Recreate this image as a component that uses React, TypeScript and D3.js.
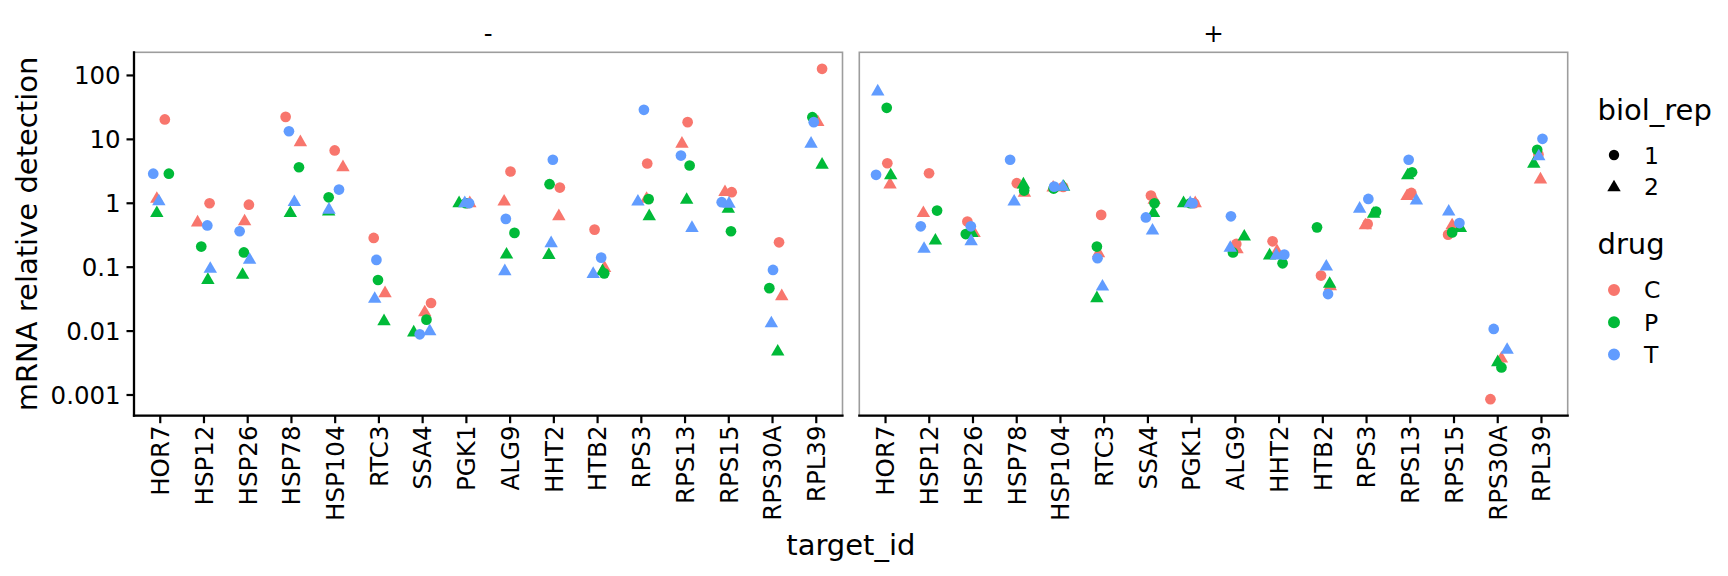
import React from "react";
import * as d3 from "d3";

const categories = ["HOR7", "HSP12", "HSP26", "HSP78", "HSP104", "RTC3", "SSA4", "PGK1", "ALG9", "HHT2", "HTB2", "RPS3", "RPS13", "RPS15", "RPS30A", "RPL39"];
const panelLabels = ["-", "+"];
const drugs = ["C", "P", "T"];
const drugColors = ["#F8766D", "#00BA38", "#619CFF"];
const reps = ["1", "2"];
const yTicks = [0.001, 0.01, 0.1, 1, 10, 100];
const yTickLabels = ["0.001", "0.01", "0.1", "1", "10", "100"];

// panel "-"
const minusC1 = [20.5, 1.0, 0.95, 22.5, 6.7, 0.287, 0.0275, 1.0, 3.14, 1.76, 0.387, 4.19, 18.6, 1.49, 0.245, 127];
const minusC1Jit = [0.105, 0.128, 0.027, -0.133, -0.011, -0.119, 0.192, 0.032, 0.009, 0.137, -0.069, 0.135, 0.059, 0.066, 0.149, 0.133];
const minusC2 = [1.17, 0.5, 0.52, 9.0, 3.66, 0.039, 0.0196, 1.0, 1.06, 0.625, 0.097, 1.17, 8.5, 1.49, 0.035, 18.6];
const minusC2Jit = [-0.078, -0.146, -0.071, 0.204, 0.178, 0.14, 0.048, 0.078, -0.137, 0.114, 0.16, 0.121, -0.071, -0.087, 0.211, 0.034];
const minusP1 = [2.9, 0.21, 0.17, 3.66, 1.24, 0.063, 0.0151, 1.0, 0.344, 1.99, 0.08, 1.16, 3.9, 0.365, 0.047, 22.2];
const minusP1Jit = [0.197, -0.062, -0.087, 0.172, -0.149, -0.021, 0.087, -0.014, 0.1, -0.098, 0.151, 0.167, 0.105, 0.05, -0.073, -0.089];
const minusP2 = [0.7, 0.063, 0.0755, 0.7, 0.74, 0.0142, 0.0095, 1.0, 0.157, 0.155, 0.086, 0.625, 1.13, 0.82, 0.00475, 3.99];
const minusP2Jit = [-0.078, 0.089, -0.117, -0.025, -0.149, 0.117, -0.204, -0.167, -0.082, -0.114, 0.114, 0.181, 0.037, -0.011, 0.119, 0.133];
const minusT1 = [2.9, 0.45, 0.365, 13.4, 1.64, 0.13, 0.0089, 1.0, 0.57, 4.8, 0.141, 29, 5.58, 1.04, 0.0906, 18.6];
const minusT1Jit = [-0.16, 0.076, -0.185, -0.057, 0.087, -0.057, -0.066, 0.062, -0.098, -0.023, 0.082, 0.059, -0.094, -0.162, 0.011, -0.057];
const minusT2 = [1.07, 0.094, 0.13, 1.04, 0.79, 0.0318, 0.0099, 1.0, 0.086, 0.236, 0.078, 1.06, 0.41, 0.98, 0.0132, 8.5];
const minusT2Jit = [-0.032, 0.144, 0.043, 0.066, -0.142, -0.096, 0.162, -0.037, -0.121, -0.062, -0.1, -0.078, 0.158, 0.005, -0.027, -0.119];

// panel "+"
const plusC1 = [4.23, 2.95, 0.517, 2.06, 1.8, 0.658, 1.32, 1.0, 0.231, 0.254, 0.074, 0.475, 1.45, 0.323, 0.00086, 5.8];
const plusC1Jit = [0.041, -0.005, -0.128, 0.002, 0.062, -0.069, 0.069, 0.06, 0.021, -0.149, -0.041, 0.025, 0.025, -0.135, -0.167, -0.069];
const plusC2 = [1.96, 0.7, 0.34, 1.45, 1.75, 0.165, 1.13, 1.0, 0.19, 0.177, 0.05, 0.45, 1.29, 0.45, 0.0037, 2.35];
const plusC2Jit = [0.103, -0.135, 0.025, 0.176, -0.167, -0.13, 0.144, 0.082, 0.037, -0.048, 0.172, -0.027, -0.073, -0.043, 0.085, -0.023];
const plusP1 = [31.2, 0.77, 0.33, 1.58, 1.7, 0.21, 1.0, 1.0, 0.17, 0.115, 0.42, 0.74, 3.06, 0.35, 0.0027, 6.86];
const plusP1Jit = [0.027, 0.178, -0.165, 0.169, -0.156, -0.167, 0.151, -0.032, -0.055, 0.08, -0.133, 0.217, 0.041, -0.043, 0.085, -0.098];
const plusP2 = [2.72, 0.26, 0.34, 1.96, 1.8, 0.0325, 0.7, 1.0, 0.3, 0.152, 0.0546, 0.68, 2.72, 0.41, 0.00324, 4.14];
const plusP2Jit = [0.119, 0.14, -0.027, 0.153, 0.073, -0.167, 0.128, -0.185, 0.204, -0.217, 0.156, 0.162, -0.059, 0.146, 0, -0.176];
const plusT1 = [2.79, 0.436, 0.436, 4.8, 1.82, 0.138, 0.6, 1.0, 0.625, 0.157, 0.038, 1.17, 4.8, 0.49, 0.0108, 10.2];
const plusT1Jit = [-0.217, -0.195, -0.05, -0.151, -0.144, -0.153, -0.046, 0.021, -0.101, 0.119, 0.119, 0.041, -0.037, 0.124, -0.092, 0.023];
const plusT2 = [56, 0.193, 0.254, 1.06, 1.8, 0.0496, 0.373, 1.0, 0.2, 0.152, 0.102, 0.82, 1.1, 0.74, 0.00506, 5.4];
const plusT2Jit = [-0.178, -0.119, -0.043, -0.059, 0.055, -0.039, 0.105, -0.032, -0.117, -0.064, 0.08, -0.158, 0.14, -0.121, 0.215, -0.062];

// grouped: [panel][drug][rep]
const series = [
  [[[minusC1, minusC1Jit], [minusC2, minusC2Jit]], [[minusP1, minusP1Jit], [minusP2, minusP2Jit]], [[minusT1, minusT1Jit], [minusT2, minusT2Jit]]],
  [[[plusC1, plusC1Jit], [plusC2, plusC2Jit]], [[plusP1, plusP1Jit], [plusP2, plusP2Jit]], [[plusT1, plusT1Jit], [plusT2, plusT2Jit]]],
];

const FONT = "DejaVu Sans, sans-serif";
const W = 1728;
const H = 576;
const panelTop = 52.3;
const panelBottom = 415.7;
const panelX = [[134, 842.5], [859.3, 1567.7]];

const circlePath = d3.symbol().type(d3.symbolCircle).size(90)() as string;
const trianglePath = d3.symbol().type(d3.symbolTriangle).size(78)() as string;
const legendCircle = d3.symbol().type(d3.symbolCircle).size(84)() as string;
const legendDrugCircle = d3.symbol().type(d3.symbolCircle).size(113)() as string;

export default function App() {
  const allVals: number[] = [];
  series.forEach((p) => p.forEach((d) => d.forEach(([v]) => v.forEach((x) => allVals.push(x)))));
  const lo = Math.log10(d3.min(allVals) as number);
  const hi = Math.log10(d3.max(allVals) as number);
  const pad = (hi - lo) * 0.05;
  const y = d3.scaleLog().domain([Math.pow(10, lo - pad), Math.pow(10, hi + pad)]).range([panelBottom, panelTop]);

  const xScales = panelX.map(([a, b]) => d3.scalePoint<string>().domain(categories).range([a, b]).padding(0.6));

  return (
    <div style={{ position: "absolute", left: 0, top: 0 }}>
      <svg width={W} height={H} style={{ display: "block", background: "#fff" }} fontFamily={FONT}>
        <rect x={0} y={0} width={W} height={H} fill="#fff" />
        {panelX.map(([a, b], pi) => {
          const xs = xScales[pi];
          const step = xs.step();
          return (
            <g key={pi}>
              <rect x={a} y={panelTop} width={b - a} height={panelBottom - panelTop} fill="none" stroke="#9d9d9d" strokeWidth={1.6} />
              <text x={(a + b) / 2} y={41.5} textAnchor="middle" fontSize={24.5} fill="#000">{panelLabels[pi]}</text>
              {/* bottom axis */}
              <line x1={a - 1.1} x2={b + 1.1} y1={panelBottom} y2={panelBottom} stroke="#000" strokeWidth={2.3} />
              {categories.map((c) => (
                <g key={c}>
                  <line x1={xs(c)} x2={xs(c)} y1={panelBottom} y2={panelBottom + 7.5} stroke="#000" strokeWidth={2.2} />
                  <text transform={`translate(${xs(c)},${425.5}) rotate(-90)`} textAnchor="end" dy="0.36em" fontSize={24.5} fill="#000">{c}</text>
                </g>
              ))}
              {series[pi].map((drugSeries, di) =>
                drugSeries.map(([vals, jit], ri) =>
                  vals.map((v, ci) => (
                    <path
                      key={`${di}-${ri}-${ci}`}
                      d={ri === 0 ? circlePath : trianglePath}
                      transform={`translate(${(xs(categories[ci]) as number) + jit[ci] * step},${y(v)})`}
                      fill={drugColors[di]}
                    />
                  ))
                )
              )}
            </g>
          );
        })}
        {/* y axis (left panel) */}
        <line x1={134} x2={134} y1={panelTop - 1.1} y2={panelBottom + 1.1} stroke="#000" strokeWidth={2.3} />
        {yTicks.map((t, i) => (
          <g key={t}>
            <line x1={126.5} x2={134} y1={y(t)} y2={y(t)} stroke="#000" strokeWidth={2.2} />
            <text x={120.7} y={y(t)} dy="0.36em" textAnchor="end" fontSize={24.5} fill="#000">{yTickLabels[i]}</text>
          </g>
        ))}
        <text transform={`translate(37.3,${(panelTop + panelBottom) / 2}) rotate(-90)`} textAnchor="middle" fontSize={29} fill="#000">mRNA relative detection</text>
        <text x={(panelX[0][0] + panelX[1][1]) / 2} y={555} textAnchor="middle" fontSize={29} fill="#000">target_id</text>

        {/* legend */}
        <text x={1597.5} y={120} fontSize={29} fill="#000">biol_rep</text>
        {reps.map((r, i) => (
          <g key={r}>
            <path d={i === 0 ? legendCircle : trianglePath} transform={`translate(1614,${i === 0 ? 155 : 187.5})`} fill="#000" />
            <text x={1644} y={i === 0 ? 164 : 195} fontSize={23.5} fill="#000">{r}</text>
          </g>
        ))}
        <text x={1597.5} y={253.5} fontSize={29} fill="#000">drug</text>
        {drugs.map((d, i) => (
          <g key={d}>
            <path d={legendDrugCircle} transform={`translate(1614,${290 + i * 32.2})`} fill={drugColors[i]} />
            <text x={1644} y={290 + i * 32.2 + 8.4} fontSize={23.5} fill="#000">{d}</text>
          </g>
        ))}
      </svg>
    </div>
  );
}
